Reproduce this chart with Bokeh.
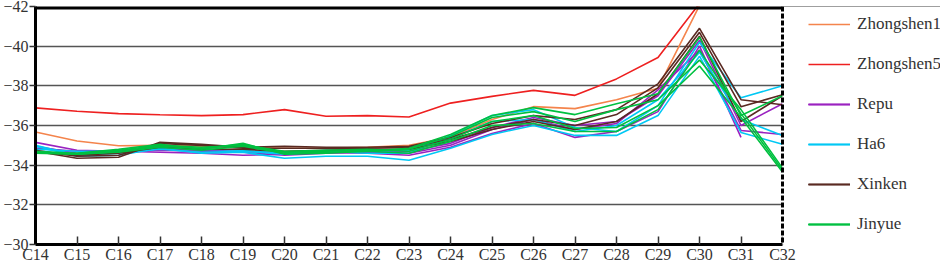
from bokeh.plotting import figure
from bokeh.models import (Range1d, FixedTicker, Span, Legend, LegendItem, ColumnDataSource,
                          BoxAnnotation)
from bokeh.embed import file_html
from bokeh.resources import INLINE

nan = float("nan")

categories = ["C14", "C15", "C16", "C17", "C18", "C19", "C20", "C21", "C22", "C23",
              "C24", "C25", "C26", "C27", "C28", "C29", "C30", "C31", "C32"]
y_ticks = [-42, -40, -38, -36, -34, -32, -30]

zhongshen1 = [
    [-35.67, -35.22, -34.98, -35.0, -34.95, -34.9, -34.85, -34.85, -34.9, -35.0,
     -35.4, -36.3, -36.95, -36.85, -37.3, -37.88, -42.05, nan, nan],
]
zhongshen5 = [
    [-36.89, -36.72, -36.6, -36.54, -36.5, -36.55, -36.8, -36.47, -36.5, -36.43,
     -37.13, -37.47, -37.77, -37.52, -38.35, -39.43, -42.15, nan, nan],
]
repu = [
    [-35.15, -34.75, -34.7, -34.65, -34.6, -34.5, -34.55, -34.65, -34.6, -34.5,
     -34.9, -35.6, -36.1, -35.4, -35.7, -36.7, -40.0, -35.4, nan],
    [-34.85, -34.7, -34.65, -34.75, -34.7, -34.65, -34.5, -34.6, -34.65, -34.6,
     -35.0, -35.8, -36.3, -35.8, -36.1, -37.8, -39.8, -35.75, -35.55],
    [-34.95, -34.6, -34.75, -34.8, -34.75, -34.7, -34.6, -34.7, -34.7, -34.7,
     -35.1, -35.9, -36.4, -36.0, -36.2, -37.5, -40.3, -36.0, -37.1],
]
ha6 = [
    [-34.95, -34.45, -34.5, -34.85, -34.6, -34.65, -34.35, -34.45, -34.45, -34.25,
     -34.85, -35.55, -36.0, -35.5, -35.5, -36.5, -39.5, -35.65, -35.05],
    [-35.0, -34.5, -34.6, -34.8, -34.65, -34.7, -34.55, -34.7, -34.6, -34.6,
     -35.5, -36.5, -36.8, -35.9, -35.7, -37.0, -40.2, -37.4, -38.0],
    [-34.8, -34.7, -34.7, -34.9, -34.8, -34.75, -34.6, -34.75, -34.7, -34.75,
     -35.35, -36.2, -36.3, -35.7, -36.0, -37.3, -39.7, -36.3, -35.5],
]
xinken = [
    [-34.7, -34.35, -34.4, -35.15, -35.05, -34.9, -34.95, -34.9, -34.9, -34.95,
     -35.4, -36.1, -36.5, -36.3, -36.8, -38.1, -40.9, -37.3, -37.05],
    [-34.75, -34.45, -34.5, -35.1, -35.0, -34.85, -34.85, -34.85, -34.85, -34.9,
     -35.3, -35.9, -36.3, -36.0, -36.55, -37.9, -40.7, -36.95, -37.55],
    [-34.65, -34.5, -34.6, -34.9, -34.8, -34.8, -34.7, -34.75, -34.8, -34.8,
     -35.2, -35.8, -36.2, -35.8, -36.2, -37.6, -40.5, -36.2, -37.5],
]
jinyue = [
    [-34.6, -34.6, -34.8, -35.05, -34.8, -35.1, -34.55, -34.6, -34.7, -34.85,
     -35.55, -36.5, -36.9, -36.55, -37.1, -37.6, -40.45, -36.5, -37.5],
    [-34.65, -34.55, -34.7, -34.95, -34.85, -35.05, -34.65, -34.7, -34.75, -34.8,
     -35.45, -36.4, -36.7, -36.2, -36.8, -37.3, -39.3, -36.8, -33.85],
    [-34.7, -34.6, -34.75, -35.0, -34.9, -35.0, -34.7, -34.75, -34.8, -34.7,
     -35.3, -36.2, -36.5, -35.85, -35.9, -37.0, -39.0, -36.4, -33.65],
    [-34.6, -34.55, -34.65, -34.9, -34.75, -34.95, -34.6, -34.65, -34.7, -34.6,
     -35.2, -36.0, -36.1, -35.7, -35.7, -36.8, -39.8, -36.6, -33.75],
]

series = [
    ("Zhongshen1", zhongshen1, "#f4844c"),
    ("Zhongshen5", zhongshen5, "#ee2020"),
    ("Repu", repu, "#9a22c0"),
    ("Ha6", ha6, "#00c8f4"),
    ("Xinken", xinken, "#5a2a22"),
    ("Jinyue", jinyue, "#00c040"),
]

FONT = "Liberation Serif"
TXT = "#333333"

# layout (screen px): frame from x=35 to the right edge; last category sits at x=782
W, H = 940, 265
FRAME_LEFT = 35
LAST_X = 782
n_last = len(categories) - 1
x_end = n_last * (W - FRAME_LEFT) / (LAST_X - FRAME_LEFT)

p = figure(width=W, height=H, output_backend="svg", toolbar_location=None,
           x_range=Range1d(0, x_end), y_range=Range1d(-30, -42),
           min_border_left=27, min_border_right=0, min_border_top=6, min_border_bottom=0)
p.outline_line_color = None
p.background_fill_color = "white"

xs = list(range(len(categories)))
items = []
for name, lines, color in series:
    rs = []
    for vals in lines:
        src = ColumnDataSource(dict(x=xs, y=vals))
        r = p.line("x", "y", source=src, line_color=color, line_width=1.6)
        rs.append(r)
    items.append(LegendItem(label=name, renderers=rs))

# axes
p.xaxis.ticker = FixedTicker(ticks=xs)
p.xaxis.major_label_overrides = {i: c for i, c in enumerate(categories)}
p.xaxis.bounds = (0, n_last)
p.yaxis.ticker = FixedTicker(ticks=y_ticks)
for ax in (p.xaxis[0], p.yaxis[0]):
    ax.axis_line_width = 3
    ax.axis_line_color = "black"
    ax.major_tick_line_color = "#333333"
    ax.major_tick_line_width = 1.5
    ax.minor_tick_line_color = None
    ax.major_label_text_font = FONT
    ax.major_label_text_font_size = "16px"
    ax.major_label_text_color = TXT
p.xaxis.major_tick_in = 8
p.xaxis.major_tick_out = 0
p.xaxis.major_label_standoff = 1
p.yaxis.major_tick_in = 0
p.yaxis.major_tick_out = 6
p.yaxis.major_label_standoff = 1

p.xgrid.grid_line_color = None
p.ygrid.ticker = FixedTicker(ticks=[-40, -38, -36, -34, -32])
p.ygrid.grid_line_color = "#555555"
p.ygrid.grid_line_width = 1.5

# top border
p.add_layout(Span(location=-42, dimension="width", line_color="black", line_width=6))
# blank area right of the plot (legend area)
p.add_layout(BoxAnnotation(left=n_last, fill_color="white", fill_alpha=1.0, line_color=None))
# dashed right border
p.add_layout(Span(location=n_last, dimension="height", line_color="black",
                  line_width=3, line_dash="5 2"))

legend = Legend(items=items, location=(773, 10), orientation="vertical",
                glyph_width=42, glyph_height=20, label_height=20, spacing=20,
                label_standoff=7, padding=0, margin=0,
                border_line_color=None, background_fill_alpha=0,
                label_text_font=FONT, label_text_font_size="17px", label_text_color=TXT)
p.add_layout(legend, "center")

open("out.html", "w").write(file_html(p, INLINE))
